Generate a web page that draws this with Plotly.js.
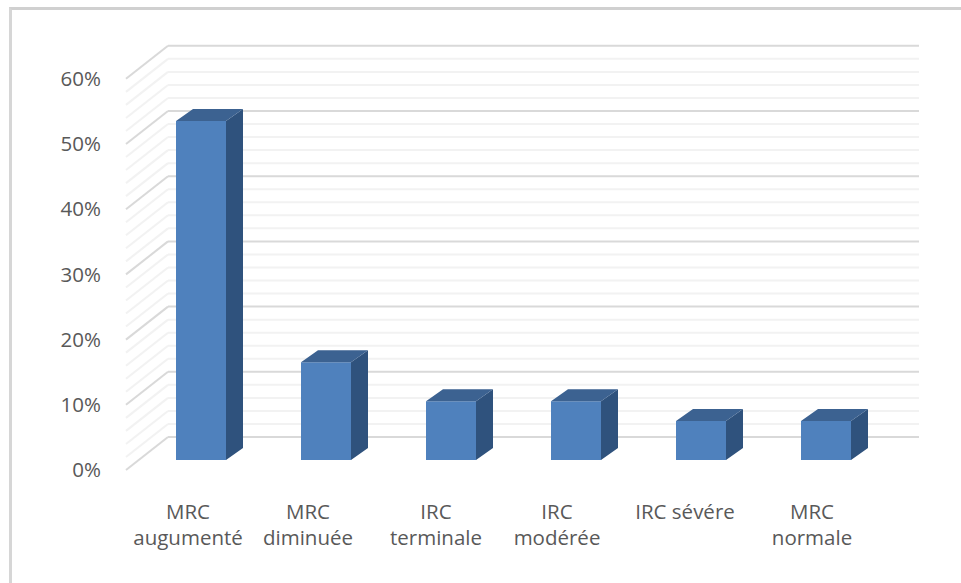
<!DOCTYPE html>
<html>
<head>
<meta charset="utf-8">
<script src="https://cdn.plot.ly/plotly-3.0.1.min.js"></script>
<style>
  html, body { margin: 0; padding: 0; background: #fff; overflow: hidden; }
  #frame { position: absolute; left: 9px; top: 7px; width: 952px; height: 576px;
           border-left: 3px solid #d6d6d6; border-top: 3px solid #d0d0d0; box-sizing: border-box; }
  #chart { position: absolute; left: 0; top: 0; width: 961px; height: 583px; }
</style>
</head>
<body>
<div id="frame"></div>
<div id="chart"></div>
<script>
// Share of patients per renal function class (%)
const categories = ["MRC<br>augumenté", "MRC<br>diminuée", "IRC<br>terminale", "IRC<br>modérée", "IRC sévére", "MRC<br>normale"];
const shares = [52, 15, 9, 9, 6, 6];
const majorTicks = [0, 10, 20, 30, 40, 50, 60];
const wallLevels = [0, 2, 4, 6, 8, 10, 12, 14, 16, 18, 20, 22, 24, 26, 28, 30, 32, 34, 36, 38, 40, 42, 44, 46, 48, 50, 52, 54, 56, 58, 60];
const labelShift = [-0.104, -0.144, -0.12, -0.152, -0.128, -0.112];

// Page geometry of the axes: one category step and one percent, in pixels
const stepPx = 125, pctPx = 6.52;
const plot = { left: 112, right: 940, top: 36, bottom: 490 };
const firstBarPx = 201, zeroPx = 470;

const toX = px => (px - firstBarPx) / stepPx;
const toY = px => (zeroPx - px) / pctPx;
const dxPx = px => px / stepPx;
const dyPx = px => px / pctPx;

// Oblique projection offsets
const wallDepthX = dxPx(42), wallDepthY = dyPx(33);
const barWidth = dxPx(50), barDepthX = dxPx(17), barDepthY = dyPx(12), floorLift = dyPx(10);
const wallFrontX = toX(126), wallBackX = wallFrontX + wallDepthX, wallRightX = toX(919);

const isMajor = v => majorTicks.includes(v);
const wallShapes = wallLevels.map(v => {
  const line = { color: isMajor(v) ? "#d9d9d9" : "#f2f2f2", width: 2 };
  return [
    { type: "line", layer: "below", xref: "x", yref: "y", line,
      x0: wallFrontX, y0: v, x1: wallBackX, y1: v + wallDepthY },
    { type: "line", layer: "below", xref: "x", yref: "y", line,
      x0: wallBackX, y0: v + wallDepthY, x1: wallRightX, y1: v + wallDepthY }
  ];
}).flat().sort((a, b) => (a.line.color === "#d9d9d9") - (b.line.color === "#d9d9d9"));

// Side and top faces of each bar, as polygons separated by gaps
const sideX = [], sideY = [], topX = [], topY = [];
shares.forEach((v, i) => {
  const r = i + barWidth / 2, l = i - barWidth / 2;
  const b = floorLift, t = floorLift + v;
  sideX.push(r, r + barDepthX, r + barDepthX, r, r, null);
  sideY.push(b, b + barDepthY, t + barDepthY, t, b, null);
  topX.push(l, l + barDepthX, r + barDepthX, r, l, null);
  topY.push(t, t + barDepthY, t + barDepthY, t, t, null);
});

const data = [
  { type: "bar", x: shares.map((_, i) => i), y: shares, base: floorLift, width: barWidth,
    marker: { color: "#4f81bd", line: { width: 0 } }, hoverinfo: "y" },
  { type: "scatter", mode: "lines", x: sideX, y: sideY, fill: "toself", fillcolor: "#2f527d",
    line: { width: 0, color: "#2f527d" }, hoverinfo: "skip" },
  { type: "scatter", mode: "lines", x: topX, y: topY, fill: "toself", fillcolor: "#3c6291",
    line: { width: 0, color: "#3c6291" }, hoverinfo: "skip" }
];

const textFont = { family: "Open Sans, Liberation Sans, sans-serif", size: 20.5, color: "#595959" };

const layout = {
  width: 961, height: 583,
  margin: { l: plot.left, r: 961 - plot.right, t: plot.top, b: 583 - plot.bottom, pad: 0 },
  paper_bgcolor: "rgba(0,0,0,0)", plot_bgcolor: "rgba(0,0,0,0)",
  showlegend: false,
  xaxis: {
    range: [toX(plot.left), toX(plot.right)],
    tickmode: "array", tickvals: labelShift.map((s, i) => i + s), ticktext: categories,
    showgrid: false, zeroline: false, showline: false,
    ticks: "outside", ticklen: 3, tickcolor: "rgba(0,0,0,0)", tickangle: 0,
    tickfont: textFont, fixedrange: true
  },
  yaxis: {
    range: [toY(plot.bottom), toY(plot.top)],
    tickmode: "array", tickvals: majorTicks, ticktext: majorTicks.map(v => v + "%"),
    showgrid: false, zeroline: false, showline: false,
    ticks: "outside", ticklen: 6, tickcolor: "rgba(0,0,0,0)",
    tickfont: textFont, fixedrange: true
  },
  shapes: wallShapes
};

Plotly.newPlot("chart", data, layout, { displayModeBar: false, staticPlot: true });
</script>
</body>
</html>
